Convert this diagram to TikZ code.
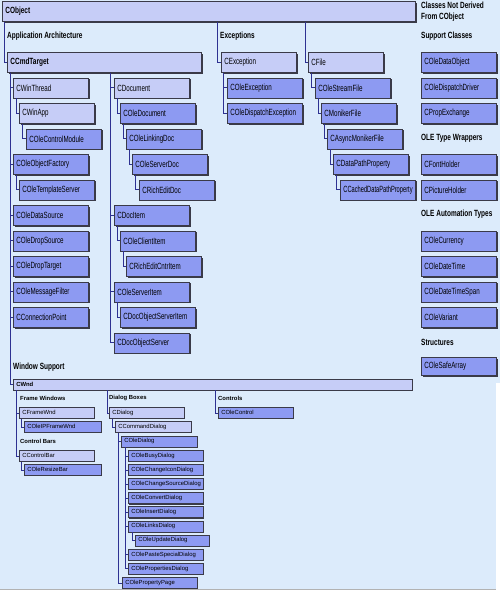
\documentclass[tikz,border=0pt]{standalone}
\usepackage{fontspec}
\setmainfont{Liberation Sans}
\newfontfamily\cond{Liberation Sans}[FakeStretch=0.69]
\newfontfamily\condb{Liberation Sans}[FakeStretch=0.72]
\usetikzlibrary{calc,shadows}
\definecolor{bgc}{HTML}{DCEBFB}
\definecolor{lfill}{HTML}{C6CDF7}
\definecolor{dfill}{HTML}{8D9AF2}
\definecolor{conc}{HTML}{2E3192}
\definecolor{bordc}{HTML}{3A3A48}
\tikzset{
  big/.style={anchor=north west, draw=bordc, line width=0.8pt, inner xsep=3pt, inner ysep=0pt,
    minimum height=20pt, font=\cond\fontsize{9}{10}\selectfont,
    drop shadow={shadow xshift=1.2pt, shadow yshift=-1.2pt, opacity=1, fill=bordc}},
  small/.style={anchor=north west, draw=bordc, line width=0.6pt, inner xsep=3pt, inner ysep=0pt,
    minimum height=11pt, font=\fontsize{5.9}{7}\selectfont,
    drop shadow={shadow xshift=0.9pt, shadow yshift=-0.9pt, opacity=1, fill=bordc}},
  lt/.style={fill=lfill}, dk/.style={fill=dfill},
  head/.style={anchor=west, inner sep=0pt, font=\condb\bfseries\fontsize{9}{10}\selectfont},
  shead/.style={anchor=west, inner sep=0pt, font=\bfseries\fontsize{5.9}{7}\selectfont},
  conn/.style={draw=conc, line width=0.9pt},
  sconn/.style={draw=conc, line width=0.6pt},
}
\newcommand\cb[6]{\pgfmathsetmacro\tw{#5-6}\node[#1] (#2) at (#3,#4) {\makebox[\tw pt][l]{#6}};}
\begin{document}
\begin{tikzpicture}[x=1pt,y=-1pt]
\useasboundingbox (0,0) rectangle (500,600);
\fill[white] (0,0) rectangle (500,600);
\fill[bgc] (0,0) rectangle (496,589);
\fill[bgc] (496,0) rectangle (500,383);
\draw[black!30, line width=0.5pt] (0,589) -- (496,589);

% top
\cb{big,lt,font=\condb\bfseries\fontsize{9}{10}\selectfont}{cobject}{2}{1}{413}{CObject}
\node[head, anchor=north west, align=left, font=\condb\bfseries\fontsize{9}{11}\selectfont] (notderived) at (421,1.5) {Classes Not Derived\\From CObject};
\node[head] (apparch) at (7,36) {Application Architecture};
\node[head] (exch) at (220,36) {Exceptions};
\node[head] (supph) at (421,36) {Support Classes};

\cb{big,lt,font=\condb\bfseries\fontsize{9}{10}\selectfont}{ccmdtarget}{7}{52}{194}{CCmdTarget}
\cb{big,lt}{cwinthread}{13}{77.5}{75}{CWinThread}
\cb{big,lt}{cwinapp}{19}{103}{75}{CWinApp}
\cb{big,dk}{colecontrolmodule}{26}{128.5}{75}{COleControlModule}
\cb{big,dk}{coleobjectfactory}{13}{154}{75}{COleObjectFactory}
\cb{big,dk}{coletemplateserver}{19}{179.5}{75}{COleTemplateServer}
\cb{big,dk}{coledatasource}{13}{205}{75}{COleDataSource}
\cb{big,dk}{coledropsource}{13}{230.5}{75}{COleDropSource}
\cb{big,dk}{coledroptarget}{13}{256}{75}{COleDropTarget}
\cb{big,dk}{colemessagefilter}{13}{281.5}{75}{COleMessageFilter}
\cb{big,dk}{cconnectionpoint}{13}{307}{75}{CConnectionPoint}

\cb{big,lt}{cdocument}{114}{77.5}{75}{CDocument}
\cb{big,dk}{coledocument}{120}{103}{75}{COleDocument}
\cb{big,dk}{colelinkingdoc}{126}{128.5}{75}{COleLinkingDoc}
\cb{big,dk}{coleserverdoc}{132}{154}{75}{COleServerDoc}
\cb{big,dk}{crichedictdoc}{139}{179.5}{75}{CRichEditDoc}
\cb{big,dk}{cdocitem}{114}{205}{75}{CDocItem}
\cb{big,dk}{coleclientitem}{120}{230.5}{75}{COleClientItem}
\cb{big,dk}{crichcntritem}{126}{256}{75}{CRichEditCntrItem}
\cb{big,dk}{coleserveritem}{114}{281.5}{75}{COleServerItem}
\cb{big,dk}{cdocobjserveritem}{120}{307}{75}{CDocObjectServerItem}
\cb{big,dk}{cdocobjectserver}{114}{332.5}{75}{CDocObjectServer}

\cb{big,lt}{cexception}{221}{52}{75}{CException}
\cb{big,dk}{coleexception}{227}{77.5}{75}{COleException}
\cb{big,dk}{coledispexc}{227}{103}{75}{COleDispatchException}

\cb{big,lt}{cfile}{308}{52}{75}{CFile}
\cb{big,dk}{colestreamfile}{315}{77.5}{75}{COleStreamFile}
\cb{big,dk}{cmonikerfile}{321}{103}{75}{CMonikerFile}
\cb{big,dk}{casyncmoniker}{327}{128.5}{75}{CAsyncMonikerFile}
\cb{big,dk}{cdatapath}{333}{154}{75}{CDataPathProperty}
\cb{big,dk}{ccacheddatapath}{340}{179.5}{75}{\scalebox{0.92}[1]{CCachedDataPathProperty}}

\cb{big,dk}{coledataobject}{421}{52}{75}{COleDataObject}
\cb{big,dk}{coledispdriver}{421}{77.5}{75}{COleDispatchDriver}
\cb{big,dk}{cpropexchange}{421}{103}{75}{CPropExchange}
\node[head] (olewrap) at (421,138.5) {OLE Type Wrappers};
\cb{big,dk}{cfontholder}{421}{154}{75}{CFontHolder}
\cb{big,dk}{cpictureholder}{421}{179.5}{75}{CPictureHolder}
\node[head] (oleauto) at (421,214) {OLE Automation Types};
\cb{big,dk}{colecurrency}{421}{230.5}{75}{COleCurrency}
\cb{big,dk}{coledatetime}{421}{256}{75}{COleDateTime}
\cb{big,dk}{coledatetimespan}{421}{281.5}{75}{COleDateTimeSpan}
\cb{big,dk}{colevariant}{421}{307}{75}{COleVariant}
\node[head] (structh) at (421,342) {Structures};
\node[big,dk,minimum height=18pt] (colesafearray) at (421,357) {\makebox[69pt][l]{COleSafeArray}};

% window support
\node[head] (winsup) at (13,367) {Window Support};
\node[small,lt,minimum height=10.5pt,font=\bfseries\fontsize{5.9}{7}\selectfont] (cwnd) at (13,379) {\makebox[393pt][l]{CWnd}};
\node[shead] (framewh) at (20,398) {Frame Windows};
\node[shead] (dialogh) at (109,398) {Dialog Boxes};
\node[shead] (controlsh) at (218,398) {Controls};
\node[shead] (ctrlbarh) at (20,441) {Control Bars};

\cb{small,lt}{cframewnd}{19}{407}{75}{CFrameWnd}
\cb{small,dk}{coleipframewnd}{24}{421}{77}{COleIPFrameWnd}
\cb{small,lt}{ccontrolbar}{19}{450}{75}{CControlBar}
\cb{small,dk}{coleresizebar}{24}{464}{77}{COleResizeBar}
\cb{small,dk}{colecontrol}{218}{407}{75}{COleControl}
\cb{small,lt}{cdialog}{109}{407}{75}{CDialog}
\cb{small,lt}{ccommanddialog}{115}{421}{76}{CCommandDialog}
\cb{small,dk}{coledialog}{121}{435.5}{76}{COleDialog}
\cb{small,dk}{colebusy}{128}{450}{75}{COleBusyDialog}
\cb{small,dk}{colechicon}{128}{464.1}{75}{COleChangeIconDialog}
\cb{small,dk}{colechsrc}{128}{478.2}{75}{COleChangeSourceDialog}
\cb{small,dk}{coleconvert}{128}{492.3}{75}{COleConvertDialog}
\cb{small,dk}{coleinsert}{128}{506.4}{75}{COleInsertDialog}
\cb{small,dk}{colelinks}{128}{520.5}{75}{COleLinksDialog}
\cb{small,dk}{coleupdate}{135}{534.6}{74}{COleUpdateDialog}
\cb{small,dk}{colepaste}{128}{548.7}{75}{COlePasteSpecialDialog}
\cb{small,dk}{coleprops}{128}{562.8}{75}{COlePropertiesDialog}
\cb{small,dk}{colepropage}{122}{577}{75}{COlePropertyPage}

% connectors
\draw[conn] ($(cobject.south west)+(2,0)$) |- (ccmdtarget.west);
\draw[conn] ($(cobject.south west)+(215,0)$) |- (cexception.west);
\draw[conn] ($(cobject.south west)+(303,0)$) |- (cfile.west);
\foreach \c in {cwinthread,coleobjectfactory,coledatasource,coledropsource,coledroptarget,colemessagefilter,cconnectionpoint,cwnd}
  \draw[conn] ($(ccmdtarget.south west)+(3,0)$) |- (\c.west);
\foreach \c in {cdocument,cdocitem,coleserveritem,cdocobjectserver}
  \draw[conn] ($(ccmdtarget.south west)+(103,0)$) |- (\c.west);
\foreach \p/\c in {cwinthread/cwinapp,cwinapp/colecontrolmodule,coleobjectfactory/coletemplateserver,
  cdocument/coledocument,coledocument/colelinkingdoc,colelinkingdoc/coleserverdoc,coleserverdoc/crichedictdoc,
  cdocitem/coleclientitem,coleclientitem/crichcntritem,coleserveritem/cdocobjserveritem,
  cfile/colestreamfile,colestreamfile/cmonikerfile,cmonikerfile/casyncmoniker,casyncmoniker/cdatapath,cdatapath/ccacheddatapath}
  \draw[conn] ($(\p.south west)+(3,0)$) |- (\c.west);
\foreach \c in {coleexception,coledispexc}
  \draw[conn] ($(cexception.south west)+(2,0)$) |- (\c.west);

\foreach \c in {cframewnd,ccontrolbar}
  \draw[sconn] ($(cwnd.south west)+(3,0)$) |- (\c.west);
\draw[sconn] ($(cwnd.south west)+(94,0)$) |- (cdialog.west);
\draw[sconn] ($(cwnd.south west)+(202,0)$) |- (colecontrol.west);
\draw[sconn] ($(cframewnd.south west)+(2,0)$) |- (coleipframewnd.west);
\draw[sconn] ($(ccontrolbar.south west)+(2,0)$) |- (coleresizebar.west);
\draw[sconn] ($(cdialog.south west)+(3,0)$) |- (ccommanddialog.west);
\foreach \c in {coledialog,colepropage}
  \draw[sconn] ($(ccommanddialog.south west)+(3,0)$) |- (\c.west);
\foreach \c in {colebusy,colechicon,colechsrc,coleconvert,coleinsert,colelinks,colepaste,coleprops}
  \draw[sconn] ($(coledialog.south west)+(4,0)$) |- (\c.west);
\draw[sconn] ($(colelinks.south west)+(4,0)$) |- (coleupdate.west);
\end{tikzpicture}
\end{document}
